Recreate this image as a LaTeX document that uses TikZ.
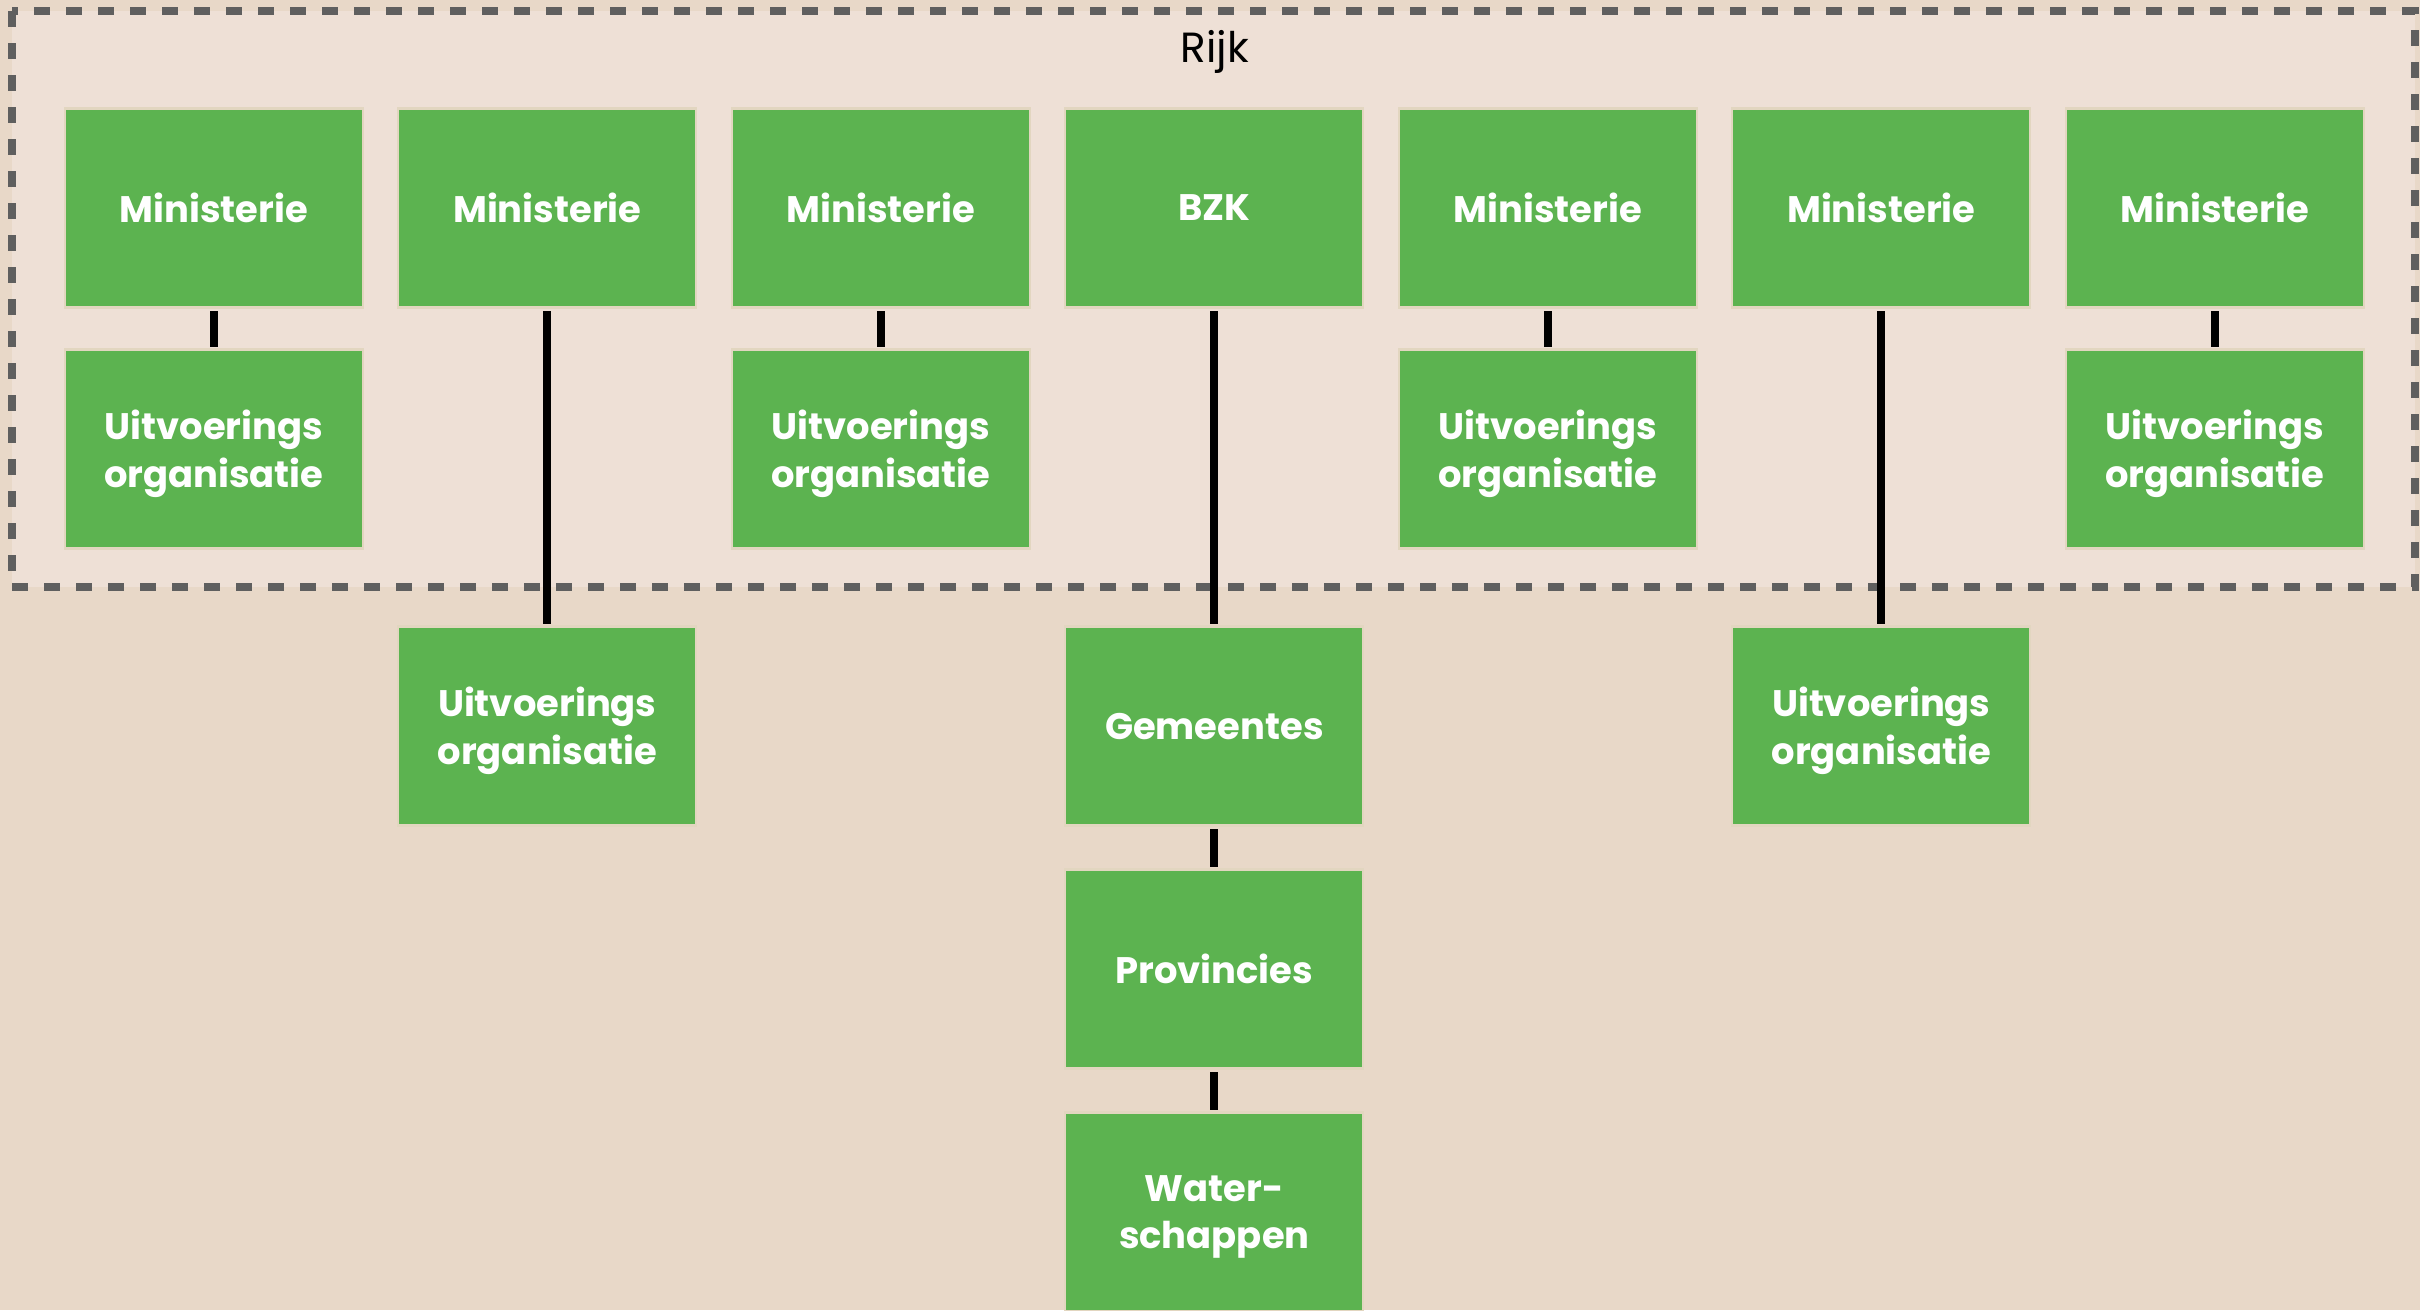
\documentclass[tikz,border=0pt]{standalone}
\usepackage{fontspec}
\setmainfont{Poppins}
\usetikzlibrary{positioning}
\definecolor{bgouter}{RGB}{232,216,200}
\definecolor{bginner}{RGB}{238,224,214}
\definecolor{boxgreen}{RGB}{92,179,80}
\definecolor{dashgray}{RGB}{95,95,95}
\definecolor{boxrim}{RGB}{226,214,192}
\tikzset{
  orgbox/.style={rectangle,fill=boxgreen,draw=boxrim,line width=0.6pt,text=white,
    font=\fontsize{10.5}{13.6}\selectfont\bfseries,align=center,text depth=0pt,
    minimum width=2.98cm,minimum height=1.99cm,inner sep=0pt,outer sep=0pt},
  link/.style={line width=0.08cm,black,shorten <=0.03cm,shorten >=0.03cm}
}

\begin{document}
\begin{tikzpicture}[node distance=0.42cm and 0.355cm]
  \useasboundingbox (0,0) rectangle (24.2,-13.1);
  \clip (0,0) rectangle (24.2,-13.1);
  \fill[bgouter] (0,0) rectangle (24.2,-13.1);
  \draw[fill=bginner,draw=dashgray,line width=0.08cm,dash pattern=on 0.16cm off 0.16cm]
    (0.12,-0.11) rectangle (24.15,-5.87);
  \node (rijk) [font=\fontsize{12}{14}\selectfont] at (12.15,-0.52) {Rijk};

  \node (min1) [orgbox] at (2.138,-2.08) {Ministerie};
  \node (min2) [orgbox] [right=of min1] {Ministerie};
  \node (min3) [orgbox] [right=of min2] {Ministerie};
  \node (bzk) [orgbox] [right=of min3] {BZK};
  \node (min4) [orgbox] [right=of bzk] {Ministerie};
  \node (min5) [orgbox] [right=of min4] {Ministerie};
  \node (min6) [orgbox] [right=of min5] {Ministerie};

  \node (uit1) [orgbox] [below=of min1] {Uitvoerings\\organisatie} edge [link] (min1);
  \node (uit3) [orgbox] [below=of min3] {Uitvoerings\\organisatie} edge [link] (min3);
  \node (uit4) [orgbox] [below=of min4] {Uitvoerings\\organisatie} edge [link] (min4);
  \node (uit6) [orgbox] [below=of min6] {Uitvoerings\\organisatie} edge [link] (min6);
  %\node (uit2) below the Rijk box
  \node (uit2) [orgbox] [below=3.19cm of min2] {Uitvoerings\\organisatie} edge [link] (min2);
  \node (uit5) [orgbox] [below=3.19cm of min5] {Uitvoerings\\organisatie} edge [link] (min5);

  \node (gem) [orgbox] [below=3.19cm of bzk] {Gemeentes} edge [link] (bzk);
  \node (prov) [orgbox] [below=0.44cm of gem] {Provincies} edge [link] (gem);
  \node (water) [orgbox] [below=0.44cm of prov] {Water-\\schappen} edge [link] (prov);
\end{tikzpicture}
\end{document}
